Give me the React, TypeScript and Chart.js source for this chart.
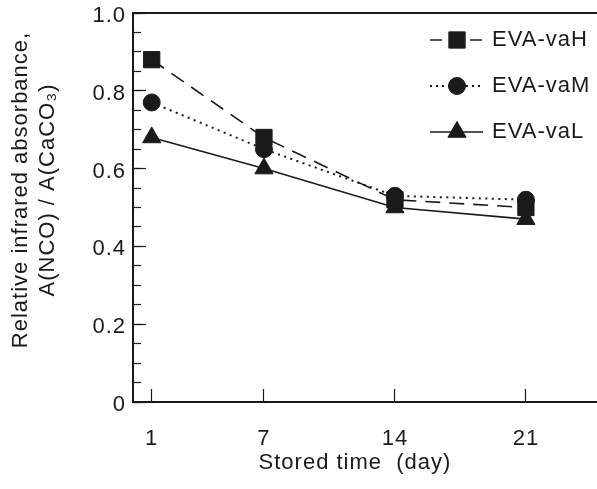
import React, { useEffect, useRef } from 'react';
import { Chart, registerables } from 'chart.js';
import { drawPoint } from 'chart.js/helpers';

Chart.register(...registerables);

// ---- data ----
const days = [1, 7, 14, 21];
const vaH = [0.88, 0.68, 0.52, 0.5];
const vaM = [0.77, 0.65, 0.53, 0.52];
const vaL = [0.68, 0.6, 0.5, 0.47];
const seriesNames = ['EVA-vaH', 'EVA-vaM', 'EVA-vaL'];
const xTickValues = [1, 7, 14, 21];
const yTickValues = [0, 0.2, 0.4, 0.6, 0.8, 1.0];
const yTickLabels = ['0', '0.2', '0.4', '0.6', '0.8', '1.0'];
const xTitle = 'Stored time  (day)';
const yTitle = ['Relative infrared absorbance,', 'A(NCO) / A(CaCO\u2083)'];

// ---- style ----
const INK = '#1a1a1a';
const FONT = "'Liberation Sans', Arial, Helvetica, sans-serif";
const W = 597;
const H = 489;

const letterSpacingPlugin = {
  id: 'letterSpacing',
  beforeUpdate(chart: any) {
    try { chart.ctx.letterSpacing = '1px'; } catch (e) { /* ignore */ }
  },
  beforeDraw(chart: any) {
    try { chart.ctx.letterSpacing = '1px'; } catch (e) { /* ignore */ }
  },
};

const framePlugin = {
  id: 'frameTop',
  afterDraw(chart: any) {
    const { ctx, chartArea } = chart;
    ctx.save();
    ctx.strokeStyle = INK;
    ctx.lineWidth = 2;
    ctx.beginPath();
    ctx.moveTo(chartArea.left - 1, chartArea.top);
    ctx.lineTo(chartArea.right, chartArea.top);
    ctx.stroke();
    ctx.restore();
  },
};

const titlesPlugin = {
  id: 'axisTitles',
  afterDraw(chart: any) {
    const { ctx } = chart;
    ctx.save();
    ctx.fillStyle = INK;
    ctx.font = `22px ${FONT}`;
    ctx.textAlign = 'center';
    ctx.textBaseline = 'middle';
    ctx.fillText(xTitle, 355, 463);
    ctx.translate(21, 190);
    ctx.rotate(-Math.PI / 2);
    ctx.fillText(yTitle[0], 0, 0);
    ctx.fillText(yTitle[1], 0, 27);
    ctx.restore();
  },
};

const legendRows = [
  { y: 40, dash: [12, 28], width: 1.6 },
  { y: 86, dash: [2, 4], width: 2 },
  { y: 132, dash: [] as number[], width: 1.6 },
];

const legendPlugin = {
  id: 'lineLegend',
  afterDatasetsDraw(chart: any) {
    const { ctx } = chart;
    chart.data.datasets.forEach((ds: any, i: number) => {
      const row = legendRows[i];
      ctx.save();
      ctx.strokeStyle = INK;
      ctx.lineWidth = row.width;
      ctx.setLineDash(row.dash);
      ctx.beginPath();
      ctx.moveTo(430, row.y);
      ctx.lineTo(483, row.y);
      ctx.stroke();
      ctx.setLineDash([]);
      ctx.fillStyle = INK;
      ctx.strokeStyle = INK;
      ctx.lineWidth = 1;
      drawPoint(ctx, { pointStyle: ds.pointStyle, radius: ds.pointRadius, rotation: 0, borderWidth: 1 } as any, 457, row.y);
      ctx.font = `22px ${FONT}`;
      ctx.textAlign = 'left';
      ctx.textBaseline = 'middle';
      ctx.fillText(ds.label, 492, row.y);
      ctx.restore();
    });
  },
};

function toPoints(values: number[]) {
  return days.map((d, i) => ({ x: d, y: values[i] }));
}

export default function App() {
  const ref = useRef<HTMLCanvasElement | null>(null);

  useEffect(() => {
    if (!ref.current) return;
    Chart.defaults.font.family = FONT;
    Chart.defaults.font.size = 22;
    Chart.defaults.color = INK;

    const common = {
      borderColor: INK,
      backgroundColor: INK,
      pointBackgroundColor: INK,
      pointBorderColor: INK,
      pointBorderWidth: 1,
      fill: false,
      tension: 0,
    };

    const chart = new Chart(ref.current, {
      type: 'line',
      data: {
        datasets: [
          { ...common, label: seriesNames[0], data: toPoints(vaH), borderWidth: 1.6, borderDash: [15, 9], pointStyle: 'rect', pointRadius: 11.5 },
          { ...common, label: seriesNames[1], data: toPoints(vaM), borderWidth: 2, borderDash: [2, 4.5], pointStyle: 'circle', pointRadius: 8.5 },
          { ...common, label: seriesNames[2], data: toPoints(vaL), borderWidth: 1.6, borderDash: [], pointStyle: 'triangle', pointRadius: 10.5 },
        ] as any,
      },
      options: {
        responsive: false,
        animation: false,
        events: [],
        layout: { autoPadding: false, padding: { top: 13, left: 0, right: 0, bottom: 0 } },
        plugins: {
          legend: { display: false },
          tooltip: { enabled: false },
          title: { display: false },
        },
        scales: {
          x: {
            type: 'linear',
            position: 'bottom',
            min: 0,
            max: 24.8,
            afterBuildTicks: (s: any) => { s.ticks = xTickValues.map((v) => ({ value: v })); },
            afterFit: (s: any) => { s.height = 87; s.paddingLeft = 0; s.paddingRight = 0; s.paddingTop = 0; s.paddingBottom = 0; },
            ticks: { autoSkip: false, maxRotation: 0, padding: 37, color: INK, font: { size: 22 }, callback: (v: any) => String(v) },
            grid: { drawOnChartArea: false, drawTicks: true, tickLength: -13, tickColor: INK, tickWidth: 1.2 },
            border: { display: true, color: INK, width: 2 },
          },
          y: {
            type: 'linear',
            position: 'left',
            weight: 1,
            min: 0,
            max: 1,
            afterBuildTicks: (s: any) => { s.ticks = yTickValues.map((v) => ({ value: v })); },
            afterFit: (s: any) => { s.width = 133; s.paddingLeft = 0; s.paddingRight = 0; s.paddingTop = 0; s.paddingBottom = 0; },
            ticks: {
              padding: 20,
              labelOffset: 3,
              color: INK,
              font: { size: 22 },
              callback: (v: any) => { const k = yTickValues.indexOf(v); return k >= 0 ? yTickLabels[k] : ''; },
            },
            grid: { drawOnChartArea: false, drawTicks: true, tickLength: -13, tickColor: INK, tickWidth: 1.2 },
            border: { display: true, color: INK, width: 2 },
          },
          yMinor: {
            type: 'linear',
            position: 'left',
            weight: 0,
            min: 0,
            max: 1,
            afterFit: (s: any) => { s.width = 0; s.paddingTop = 0; s.paddingBottom = 0; },
            ticks: { stepSize: 0.05, display: false },
            grid: { drawOnChartArea: false, drawTicks: true, tickLength: -8, tickColor: INK, tickWidth: 1.2 },
            border: { display: false },
          },
        },
      } as any,
      plugins: [letterSpacingPlugin, framePlugin, titlesPlugin, legendPlugin],
    });
    return () => chart.destroy();
  }, []);

  return (
    <div style={{ position: 'absolute', left: 0, top: 0, width: W, height: H, background: '#fff' }}>
      <canvas ref={ref} width={W} height={H} style={{ display: 'block', width: W, height: H }} />
    </div>
  );
}
